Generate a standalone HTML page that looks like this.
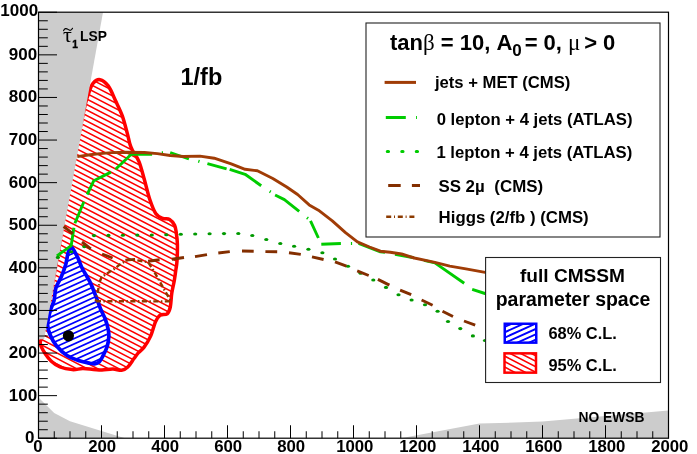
<!DOCTYPE html>
<html><head><meta charset="utf-8"><title>plot</title>
<style>
html,body{margin:0;padding:0;background:#fff;}
body{width:697px;height:454px;overflow:hidden;font-family:"Liberation Sans",sans-serif;}
svg{display:block;will-change:transform;transform:translateZ(0);}
text{font-family:"Liberation Sans",sans-serif;font-weight:bold;fill:#000;}
.sy{font-family:"Liberation Serif",serif;font-weight:normal;}
</style></head><body>
<svg width="697" height="454" viewBox="0 0 697 454">
<defs>
</defs>
<rect width="697" height="454" fill="#fff"/>

<clipPath id="cr"><path d="M99.9 79.7 C102.4 80.2 105.7 82.5 108.2 85.9 C110.8 89.3 112.9 95.0 115.2 100.0 C117.5 105.0 120.3 110.2 122.3 115.8 C124.3 121.4 126.1 128.9 127.3 133.4 C128.5 137.9 128.8 140.2 129.6 143.0 C130.4 145.8 130.7 146.9 132.3 150.0 C133.9 153.1 137.1 156.9 139.1 161.8 C141.1 166.8 142.6 173.4 144.4 179.7 C146.2 186.0 147.9 193.9 149.8 199.5 C151.7 205.1 153.5 210.2 155.7 213.4 C157.8 216.6 160.4 217.4 162.7 218.4 C165.0 219.4 167.6 218.2 169.6 219.4 C171.6 220.6 173.5 223.0 174.6 225.3 C175.7 227.6 175.8 229.8 176.3 233.0 C176.8 236.2 177.3 239.5 177.4 244.2 C177.5 248.9 177.3 256.6 177.0 261.2 C176.7 265.8 176.0 268.3 175.6 271.5 C175.2 274.7 174.9 276.9 174.3 280.5 C173.7 284.1 172.5 288.6 171.8 293.0 C171.1 297.4 171.1 303.5 170.3 307.0 C169.5 310.5 168.9 312.4 167.2 313.8 C165.5 315.2 161.9 313.9 160.0 315.2 C158.1 316.5 157.2 318.0 155.6 321.5 C154.0 325.0 152.4 332.1 150.5 336.4 C148.6 340.7 145.9 344.7 143.9 347.4 C141.9 350.1 140.2 350.8 138.5 352.6 C136.8 354.5 135.8 356.1 134.0 358.5 C132.2 360.9 129.9 365.0 127.8 367.0 C125.7 369.0 124.1 370.0 121.6 370.3 C119.1 370.6 116.3 369.1 113.0 369.0 C109.7 368.9 105.3 369.9 102.0 370.0 C98.7 370.1 96.6 369.6 93.4 369.4 C90.2 369.2 86.4 368.6 82.9 368.6 C79.4 368.6 76.1 369.9 72.3 369.6 C68.5 369.3 63.5 368.4 60.0 367.0 C56.5 365.6 53.7 363.4 51.3 361.2 C48.9 359.0 47.0 356.4 45.4 354.0 C43.8 351.6 42.3 348.9 41.4 347.0 C40.5 345.1 40.2 344.1 40.2 342.6 C40.2 341.1 40.7 341.8 41.5 338.0 C42.3 334.2 42.8 331.3 45.0 320.0 C47.2 308.7 50.8 293.3 55.0 270.0 C59.2 246.7 65.2 206.7 70.0 180.0 C74.8 153.3 80.9 124.5 84.0 110.0 C87.1 95.5 87.3 97.4 88.8 92.9 C90.3 88.4 91.3 85.4 93.2 83.2 C95.1 81.0 97.4 79.2 99.9 79.7Z"/></clipPath>
<path d="M99.9 79.7 C102.4 80.2 105.7 82.5 108.2 85.9 C110.8 89.3 112.9 95.0 115.2 100.0 C117.5 105.0 120.3 110.2 122.3 115.8 C124.3 121.4 126.1 128.9 127.3 133.4 C128.5 137.9 128.8 140.2 129.6 143.0 C130.4 145.8 130.7 146.9 132.3 150.0 C133.9 153.1 137.1 156.9 139.1 161.8 C141.1 166.8 142.6 173.4 144.4 179.7 C146.2 186.0 147.9 193.9 149.8 199.5 C151.7 205.1 153.5 210.2 155.7 213.4 C157.8 216.6 160.4 217.4 162.7 218.4 C165.0 219.4 167.6 218.2 169.6 219.4 C171.6 220.6 173.5 223.0 174.6 225.3 C175.7 227.6 175.8 229.8 176.3 233.0 C176.8 236.2 177.3 239.5 177.4 244.2 C177.5 248.9 177.3 256.6 177.0 261.2 C176.7 265.8 176.0 268.3 175.6 271.5 C175.2 274.7 174.9 276.9 174.3 280.5 C173.7 284.1 172.5 288.6 171.8 293.0 C171.1 297.4 171.1 303.5 170.3 307.0 C169.5 310.5 168.9 312.4 167.2 313.8 C165.5 315.2 161.9 313.9 160.0 315.2 C158.1 316.5 157.2 318.0 155.6 321.5 C154.0 325.0 152.4 332.1 150.5 336.4 C148.6 340.7 145.9 344.7 143.9 347.4 C141.9 350.1 140.2 350.8 138.5 352.6 C136.8 354.5 135.8 356.1 134.0 358.5 C132.2 360.9 129.9 365.0 127.8 367.0 C125.7 369.0 124.1 370.0 121.6 370.3 C119.1 370.6 116.3 369.1 113.0 369.0 C109.7 368.9 105.3 369.9 102.0 370.0 C98.7 370.1 96.6 369.6 93.4 369.4 C90.2 369.2 86.4 368.6 82.9 368.6 C79.4 368.6 76.1 369.9 72.3 369.6 C68.5 369.3 63.5 368.4 60.0 367.0 C56.5 365.6 53.7 363.4 51.3 361.2 C48.9 359.0 47.0 356.4 45.4 354.0 C43.8 351.6 42.3 348.9 41.4 347.0 C40.5 345.1 40.2 344.1 40.2 342.6 C40.2 341.1 40.7 341.8 41.5 338.0 C42.3 334.2 42.8 331.3 45.0 320.0 C47.2 308.7 50.8 293.3 55.0 270.0 C59.2 246.7 65.2 206.7 70.0 180.0 C74.8 153.3 80.9 124.5 84.0 110.0 C87.1 95.5 87.3 97.4 88.8 92.9 C90.3 88.4 91.3 85.4 93.2 83.2 C95.1 81.0 97.4 79.2 99.9 79.7Z" fill="#fff"/>
<path d="M36.00 -9.88L184.00 67.08M36.00 -4.38L184.00 72.58M36.00 1.12L184.00 78.08M36.00 6.62L184.00 83.58M36.00 12.12L184.00 89.08M36.00 17.62L184.00 94.58M36.00 23.12L184.00 100.08M36.00 28.62L184.00 105.58M36.00 34.12L184.00 111.08M36.00 39.62L184.00 116.58M36.00 45.12L184.00 122.08M36.00 50.62L184.00 127.58M36.00 56.12L184.00 133.08M36.00 61.62L184.00 138.58M36.00 67.12L184.00 144.08M36.00 72.62L184.00 149.58M36.00 78.12L184.00 155.08M36.00 83.62L184.00 160.58M36.00 89.12L184.00 166.08M36.00 94.62L184.00 171.58M36.00 100.12L184.00 177.08M36.00 105.62L184.00 182.58M36.00 111.12L184.00 188.08M36.00 116.62L184.00 193.58M36.00 122.12L184.00 199.08M36.00 127.62L184.00 204.58M36.00 133.12L184.00 210.08M36.00 138.62L184.00 215.58M36.00 144.12L184.00 221.08M36.00 149.62L184.00 226.58M36.00 155.12L184.00 232.08M36.00 160.62L184.00 237.58M36.00 166.12L184.00 243.08M36.00 171.62L184.00 248.58M36.00 177.12L184.00 254.08M36.00 182.62L184.00 259.58M36.00 188.12L184.00 265.08M36.00 193.62L184.00 270.58M36.00 199.12L184.00 276.08M36.00 204.62L184.00 281.58M36.00 210.12L184.00 287.08M36.00 215.62L184.00 292.58M36.00 221.12L184.00 298.08M36.00 226.62L184.00 303.58M36.00 232.12L184.00 309.08M36.00 237.62L184.00 314.58M36.00 243.12L184.00 320.08M36.00 248.62L184.00 325.58M36.00 254.12L184.00 331.08M36.00 259.62L184.00 336.58M36.00 265.12L184.00 342.08M36.00 270.62L184.00 347.58M36.00 276.12L184.00 353.08M36.00 281.62L184.00 358.58M36.00 287.12L184.00 364.08M36.00 292.62L184.00 369.58M36.00 298.12L184.00 375.08M36.00 303.62L184.00 380.58M36.00 309.12L184.00 386.08M36.00 314.62L184.00 391.58M36.00 320.12L184.00 397.08M36.00 325.62L184.00 402.58M36.00 331.12L184.00 408.08M36.00 336.62L184.00 413.58M36.00 342.12L184.00 419.08M36.00 347.62L184.00 424.58M36.00 353.12L184.00 430.08M36.00 358.62L184.00 435.58M36.00 364.12L184.00 441.08M36.00 369.62L184.00 446.58M36.00 375.12L184.00 452.08M36.00 380.62L184.00 457.58M36.00 386.12L184.00 463.08" clip-path="url(#cr)" stroke="#ff0000" stroke-width="1.5" fill="none"/>
<path d="M99.9 79.7 C102.4 80.2 105.7 82.5 108.2 85.9 C110.8 89.3 112.9 95.0 115.2 100.0 C117.5 105.0 120.3 110.2 122.3 115.8 C124.3 121.4 126.1 128.9 127.3 133.4 C128.5 137.9 128.8 140.2 129.6 143.0 C130.4 145.8 130.7 146.9 132.3 150.0 C133.9 153.1 137.1 156.9 139.1 161.8 C141.1 166.8 142.6 173.4 144.4 179.7 C146.2 186.0 147.9 193.9 149.8 199.5 C151.7 205.1 153.5 210.2 155.7 213.4 C157.8 216.6 160.4 217.4 162.7 218.4 C165.0 219.4 167.6 218.2 169.6 219.4 C171.6 220.6 173.5 223.0 174.6 225.3 C175.7 227.6 175.8 229.8 176.3 233.0 C176.8 236.2 177.3 239.5 177.4 244.2 C177.5 248.9 177.3 256.6 177.0 261.2 C176.7 265.8 176.0 268.3 175.6 271.5 C175.2 274.7 174.9 276.9 174.3 280.5 C173.7 284.1 172.5 288.6 171.8 293.0 C171.1 297.4 171.1 303.5 170.3 307.0 C169.5 310.5 168.9 312.4 167.2 313.8 C165.5 315.2 161.9 313.9 160.0 315.2 C158.1 316.5 157.2 318.0 155.6 321.5 C154.0 325.0 152.4 332.1 150.5 336.4 C148.6 340.7 145.9 344.7 143.9 347.4 C141.9 350.1 140.2 350.8 138.5 352.6 C136.8 354.5 135.8 356.1 134.0 358.5 C132.2 360.9 129.9 365.0 127.8 367.0 C125.7 369.0 124.1 370.0 121.6 370.3 C119.1 370.6 116.3 369.1 113.0 369.0 C109.7 368.9 105.3 369.9 102.0 370.0 C98.7 370.1 96.6 369.6 93.4 369.4 C90.2 369.2 86.4 368.6 82.9 368.6 C79.4 368.6 76.1 369.9 72.3 369.6 C68.5 369.3 63.5 368.4 60.0 367.0 C56.5 365.6 53.7 363.4 51.3 361.2 C48.9 359.0 47.0 356.4 45.4 354.0 C43.8 351.6 42.3 348.9 41.4 347.0 C40.5 345.1 40.2 344.1 40.2 342.6 C40.2 341.1 40.7 341.8 41.5 338.0 C42.3 334.2 42.8 331.3 45.0 320.0 C47.2 308.7 50.8 293.3 55.0 270.0 C59.2 246.7 65.2 206.7 70.0 180.0 C74.8 153.3 80.9 124.5 84.0 110.0 C87.1 95.5 87.3 97.4 88.8 92.9 C90.3 88.4 91.3 85.4 93.2 83.2 C95.1 81.0 97.4 79.2 99.9 79.7Z" fill="none" stroke="#ff0000" stroke-width="3.5" stroke-linejoin="round"/>
<clipPath id="cb"><path d="M71.7 247.3 C73.3 248.2 76.1 254.4 77.9 257.9 C79.7 261.4 80.2 264.4 82.3 268.5 C84.4 272.6 88.1 278.2 90.3 282.6 C92.5 287.0 93.6 290.5 95.3 294.9 C97.0 299.3 98.9 304.9 100.6 309.0 C102.3 313.1 104.0 315.7 105.3 319.2 C106.6 322.7 107.7 327.0 108.3 330.0 C108.9 333.0 109.0 334.2 108.8 337.0 C108.6 339.8 108.0 343.8 107.0 347.0 C106.0 350.2 104.1 353.7 102.8 356.2 C101.5 358.7 100.6 360.7 99.2 362.0 C97.8 363.3 96.1 363.6 94.6 363.8 C93.0 364.0 92.5 363.7 89.9 363.2 C87.4 362.7 83.1 362.1 79.3 360.8 C75.5 359.5 70.8 358.0 67.0 355.5 C63.2 353.0 59.2 349.2 56.4 345.8 C53.6 342.4 51.8 338.7 50.3 335.2 C48.8 331.7 47.6 328.8 47.6 324.7 C47.6 320.6 49.2 314.7 50.3 310.6 C51.4 306.5 53.2 304.0 54.1 300.2 C55.0 296.4 54.7 291.7 55.9 287.9 C57.1 284.1 59.5 281.1 61.1 277.3 C62.7 273.5 64.4 269.1 65.6 265.0 C66.8 260.9 67.2 255.5 68.2 252.6 C69.2 249.7 70.1 246.4 71.7 247.3Z"/></clipPath>
<path d="M71.7 247.3 C73.3 248.2 76.1 254.4 77.9 257.9 C79.7 261.4 80.2 264.4 82.3 268.5 C84.4 272.6 88.1 278.2 90.3 282.6 C92.5 287.0 93.6 290.5 95.3 294.9 C97.0 299.3 98.9 304.9 100.6 309.0 C102.3 313.1 104.0 315.7 105.3 319.2 C106.6 322.7 107.7 327.0 108.3 330.0 C108.9 333.0 109.0 334.2 108.8 337.0 C108.6 339.8 108.0 343.8 107.0 347.0 C106.0 350.2 104.1 353.7 102.8 356.2 C101.5 358.7 100.6 360.7 99.2 362.0 C97.8 363.3 96.1 363.6 94.6 363.8 C93.0 364.0 92.5 363.7 89.9 363.2 C87.4 362.7 83.1 362.1 79.3 360.8 C75.5 359.5 70.8 358.0 67.0 355.5 C63.2 353.0 59.2 349.2 56.4 345.8 C53.6 342.4 51.8 338.7 50.3 335.2 C48.8 331.7 47.6 328.8 47.6 324.7 C47.6 320.6 49.2 314.7 50.3 310.6 C51.4 306.5 53.2 304.0 54.1 300.2 C55.0 296.4 54.7 291.7 55.9 287.9 C57.1 284.1 59.5 281.1 61.1 277.3 C62.7 273.5 64.4 269.1 65.6 265.0 C66.8 260.9 67.2 255.5 68.2 252.6 C69.2 249.7 70.1 246.4 71.7 247.3Z" fill="#fff"/>
<path d="M44.00 234.34L114.00 202.59M44.00 239.70L114.00 207.95M44.00 245.06L114.00 213.31M44.00 250.42L114.00 218.67M44.00 255.78L114.00 224.03M44.00 261.14L114.00 229.39M44.00 266.50L114.00 234.75M44.00 271.86L114.00 240.11M44.00 277.22L114.00 245.47M44.00 282.58L114.00 250.83M44.00 287.94L114.00 256.19M44.00 293.30L114.00 261.55M44.00 298.66L114.00 266.91M44.00 304.02L114.00 272.27M44.00 309.38L114.00 277.63M44.00 314.74L114.00 282.99M44.00 320.10L114.00 288.35M44.00 325.46L114.00 293.71M44.00 330.82L114.00 299.07M44.00 336.18L114.00 304.43M44.00 341.54L114.00 309.79M44.00 346.90L114.00 315.15M44.00 352.26L114.00 320.51M44.00 357.62L114.00 325.87M44.00 362.98L114.00 331.23M44.00 368.34L114.00 336.59M44.00 373.70L114.00 341.95M44.00 379.06L114.00 347.31M44.00 384.42L114.00 352.67M44.00 389.78L114.00 358.03M44.00 395.14L114.00 363.39M44.00 400.50L114.00 368.75M44.00 405.86L114.00 374.11" clip-path="url(#cb)" stroke="#0000ff" stroke-width="1.7" fill="none"/>
<path d="M71.7 247.3 C73.3 248.2 76.1 254.4 77.9 257.9 C79.7 261.4 80.2 264.4 82.3 268.5 C84.4 272.6 88.1 278.2 90.3 282.6 C92.5 287.0 93.6 290.5 95.3 294.9 C97.0 299.3 98.9 304.9 100.6 309.0 C102.3 313.1 104.0 315.7 105.3 319.2 C106.6 322.7 107.7 327.0 108.3 330.0 C108.9 333.0 109.0 334.2 108.8 337.0 C108.6 339.8 108.0 343.8 107.0 347.0 C106.0 350.2 104.1 353.7 102.8 356.2 C101.5 358.7 100.6 360.7 99.2 362.0 C97.8 363.3 96.1 363.6 94.6 363.8 C93.0 364.0 92.5 363.7 89.9 363.2 C87.4 362.7 83.1 362.1 79.3 360.8 C75.5 359.5 70.8 358.0 67.0 355.5 C63.2 353.0 59.2 349.2 56.4 345.8 C53.6 342.4 51.8 338.7 50.3 335.2 C48.8 331.7 47.6 328.8 47.6 324.7 C47.6 320.6 49.2 314.7 50.3 310.6 C51.4 306.5 53.2 304.0 54.1 300.2 C55.0 296.4 54.7 291.7 55.9 287.9 C57.1 284.1 59.5 281.1 61.1 277.3 C62.7 273.5 64.4 269.1 65.6 265.0 C66.8 260.9 67.2 255.5 68.2 252.6 C69.2 249.7 70.1 246.4 71.7 247.3Z" fill="none" stroke="#0000ff" stroke-width="3.7" stroke-linejoin="round"/>
<path d="M38.5 12.2 L103.0 12.2 L44.1 339.2 L38.5 339.2Z" fill="#cccccc"/>
<path d="M38.5 397.5 L54.2 413.0 L70.0 421.3 L101.5 431.0 L125.0 438.2 L38.5 438.2Z" fill="#cccccc"/>
<path d="M401.0 438.2 L479.5 423.6 L542.5 421.6 L605.5 416.0 L668.5 410.5 L668.5 438.2Z" fill="#cccccc"/>
<path d="M56.9 255.9 L71.2 245.6 L73.9 227.8M74.9 223.2 L83.9 201.8M87.2 194.5 L93.8 180.7 L110.9 172.1M115.6 169.2 L130.2 155.2 L132.0 154.3 L152.1 154.2M170.2 152.5 L188.9 159.0M207.4 163.6 L226.6 168.8M229.7 169.3 L245.1 174.3 L261.2 185.7M275.1 195.0 L284.4 199.6 L299.2 211.4M310.5 220.8 L318.4 238.0M321.3 244.2 L340.9 243.5M358.6 243.4 L369.5 247.7 L380.4 251.8 L385.0 252.3M395.0 254.3 L414.0 257.8M424.0 260.3 L434.9 262.9 L464.2 283.3M472.2 289.4 L486.5 294.0M161.8 152.6L163.0 152.6M198.3 161.1L199.5 161.5M269.7 191.3L270.7 191.9M307.0 217.7L308.0 218.5M350.9 243.5L352.1 243.5" fill="none" stroke="#00cc00" stroke-width="2.9" stroke-linejoin="round"/>
<path d="M77.3 156.6 L90.0 154.7 L100.0 153.6 L112.0 152.6 L125.0 152.2 L144.4 152.5 L157.3 153.6 L170.2 155.5 L183.1 156.5 L199.9 156.1 L214.2 158.2 L231.2 163.9 L245.1 169.3 L257.4 170.8 L272.8 178.5 L286.7 187.0 L297.6 194.5 L309.2 204.9 L318.4 210.2 L332.3 220.8 L345.5 232.7 L357.4 241.9 L369.5 247.0 L380.4 251.2 L390.2 252.2 L401.6 254.0 L414.3 258.0 L434.9 262.4 L449.8 266.1 L465.9 268.9 L486.5 272.6" fill="none" stroke="#a03c06" stroke-width="2.9" stroke-linejoin="round"/>
<ellipse cx="57.9" cy="257.4" rx="2.1" ry="1.55" fill="#009900"/>
<ellipse cx="71.2" cy="251.8" rx="2.1" ry="1.55" fill="#009900"/>
<ellipse cx="84.3" cy="246.6" rx="2.1" ry="1.55" fill="#009900"/>
<ellipse cx="94.0" cy="235.6" rx="2.1" ry="1.55" fill="#009900"/>
<ellipse cx="108.4" cy="235.4" rx="2.1" ry="1.55" fill="#009900"/>
<ellipse cx="122.9" cy="235.2" rx="2.1" ry="1.55" fill="#009900"/>
<ellipse cx="137.3" cy="235.1" rx="2.1" ry="1.55" fill="#009900"/>
<ellipse cx="151.8" cy="235.0" rx="2.1" ry="1.55" fill="#009900"/>
<ellipse cx="166.3" cy="234.8" rx="2.1" ry="1.55" fill="#009900"/>
<ellipse cx="180.8" cy="234.2" rx="2.1" ry="1.55" fill="#009900"/>
<ellipse cx="195.2" cy="234.0" rx="2.1" ry="1.55" fill="#009900"/>
<ellipse cx="209.6" cy="233.8" rx="2.1" ry="1.55" fill="#009900"/>
<ellipse cx="224.0" cy="233.6" rx="2.1" ry="1.55" fill="#009900"/>
<ellipse cx="238.3" cy="233.5" rx="2.1" ry="1.55" fill="#009900"/>
<ellipse cx="252.3" cy="235.5" rx="2.1" ry="1.55" fill="#009900"/>
<ellipse cx="266.3" cy="239.5" rx="2.1" ry="1.55" fill="#009900"/>
<ellipse cx="280.3" cy="243.5" rx="2.1" ry="1.55" fill="#009900"/>
<ellipse cx="294.1" cy="246.3" rx="2.1" ry="1.55" fill="#009900"/>
<ellipse cx="308.4" cy="249.2" rx="2.1" ry="1.55" fill="#009900"/>
<ellipse cx="322.4" cy="252.7" rx="2.1" ry="1.55" fill="#009900"/>
<ellipse cx="335.0" cy="259.0" rx="2.1" ry="1.55" fill="#009900"/>
<ellipse cx="348.0" cy="266.3" rx="2.1" ry="1.55" fill="#009900"/>
<ellipse cx="360.6" cy="273.2" rx="2.1" ry="1.55" fill="#009900"/>
<ellipse cx="373.3" cy="280.0" rx="2.1" ry="1.55" fill="#009900"/>
<ellipse cx="386.0" cy="287.4" rx="2.1" ry="1.55" fill="#009900"/>
<ellipse cx="398.5" cy="294.7" rx="2.1" ry="1.55" fill="#009900"/>
<ellipse cx="411.6" cy="300.0" rx="2.1" ry="1.55" fill="#009900"/>
<ellipse cx="425.0" cy="304.8" rx="2.1" ry="1.55" fill="#009900"/>
<ellipse cx="437.6" cy="311.2" rx="2.1" ry="1.55" fill="#009900"/>
<ellipse cx="448.0" cy="321.5" rx="2.1" ry="1.55" fill="#009900"/>
<ellipse cx="460.3" cy="328.6" rx="2.1" ry="1.55" fill="#009900"/>
<ellipse cx="472.9" cy="335.9" rx="2.1" ry="1.55" fill="#009900"/>
<ellipse cx="485.0" cy="340.5" rx="2.1" ry="1.55" fill="#009900"/>
<path d="M63.6 226.5L72.8 233.6M82.0 242.0L90.8 248.9M102.1 254.0L112.6 258.0M125.4 260.1L135.1 259.4M148.1 261.2L159.6 259.8M171.8 259.3L184.0 257.5M195.0 256.6L207.0 254.6M218.3 253.0L229.8 251.6M242.0 251.0L253.7 251.3M265.4 251.6L277.2 251.8M289.0 252.7L300.8 254.4M312.0 256.8L323.6 259.5M335.0 261.8L346.5 266.2M357.2 270.9L368.7 275.5M377.9 279.4L389.4 285.1M400.1 290.1L411.2 294.7M421.6 300.0L432.6 305.2M442.5 311.2L453.0 316.5M464.0 321.0L475.2 325.1" fill="none" stroke="#832e00" stroke-width="2.9"/>
<path d="M95.8 301.2 L171.1 301.4 L165.3 291.6 L158.2 278.7 L152.4 268.7 L148.1 262.2 L135.2 260.0 L128.0 259.8 L120.9 263.6 L113.7 269.4 L106.5 273.7 L101.5 277.3 L99.3 283.0 L97.9 291.6 L96.5 297.3 L95.8 301.2" fill="none" stroke="#8c3a00" stroke-width="2.4" stroke-dasharray="5.2 2.4 1.5 2.4" stroke-linejoin="round"/>
<circle cx="68.4" cy="335.8" r="5.6" fill="#000"/>
<rect x="38.5" y="12.2" width="630.0" height="426.0" fill="none" stroke="#000" stroke-width="1.2"/>
<path d="M38.50 438.25h18.5M38.50 429.73h9.3M38.50 421.21h9.3M38.50 412.69h9.3M38.50 404.17h9.3M38.50 395.65h18.5M38.50 387.13h9.3M38.50 378.61h9.3M38.50 370.09h9.3M38.50 361.57h9.3M38.50 353.05h18.5M38.50 344.53h9.3M38.50 336.01h9.3M38.50 327.49h9.3M38.50 318.97h9.3M38.50 310.45h18.5M38.50 301.93h9.3M38.50 293.41h9.3M38.50 284.89h9.3M38.50 276.37h9.3M38.50 267.85h18.5M38.50 259.33h9.3M38.50 250.81h9.3M38.50 242.29h9.3M38.50 233.77h9.3M38.50 225.25h18.5M38.50 216.73h9.3M38.50 208.21h9.3M38.50 199.69h9.3M38.50 191.17h9.3M38.50 182.65h18.5M38.50 174.13h9.3M38.50 165.61h9.3M38.50 157.09h9.3M38.50 148.57h9.3M38.50 140.05h18.5M38.50 131.53h9.3M38.50 123.01h9.3M38.50 114.49h9.3M38.50 105.97h9.3M38.50 97.45h18.5M38.50 88.93h9.3M38.50 80.41h9.3M38.50 71.89h9.3M38.50 63.37h9.3M38.50 54.85h18.5M38.50 46.33h9.3M38.50 37.81h9.3M38.50 29.29h9.3M38.50 20.77h9.3M38.50 12.25h18.5M38.50 438.25v-13.0M54.25 438.25v-7.0M70.00 438.25v-7.0M85.75 438.25v-7.0M101.50 438.25v-13.0M117.25 438.25v-7.0M133.00 438.25v-7.0M148.75 438.25v-7.0M164.50 438.25v-13.0M180.25 438.25v-7.0M196.00 438.25v-7.0M211.75 438.25v-7.0M227.50 438.25v-13.0M243.25 438.25v-7.0M259.00 438.25v-7.0M274.75 438.25v-7.0M290.50 438.25v-13.0M306.25 438.25v-7.0M322.00 438.25v-7.0M337.75 438.25v-7.0M353.50 438.25v-13.0M369.25 438.25v-7.0M385.00 438.25v-7.0M400.75 438.25v-7.0M416.50 438.25v-13.0M432.25 438.25v-7.0M448.00 438.25v-7.0M463.75 438.25v-7.0M479.50 438.25v-13.0M495.25 438.25v-7.0M511.00 438.25v-7.0M526.75 438.25v-7.0M542.50 438.25v-13.0M558.25 438.25v-7.0M574.00 438.25v-7.0M589.75 438.25v-7.0M605.50 438.25v-13.0M621.25 438.25v-7.0M637.00 438.25v-7.0M652.75 438.25v-7.0M668.50 438.25v-13.0" stroke="#000" stroke-width="1" fill="none"/>
<text x="34.4" y="443.1" font-size="17" text-anchor="end">0</text>
<text x="37.1" y="400.6" font-size="17" text-anchor="end">100</text>
<text x="37.1" y="358.1" font-size="17" text-anchor="end">200</text>
<text x="37.1" y="315.4" font-size="17" text-anchor="end">300</text>
<text x="37.1" y="272.9" font-size="17" text-anchor="end">400</text>
<text x="37.1" y="230.2" font-size="17" text-anchor="end">500</text>
<text x="37.1" y="187.7" font-size="17" text-anchor="end">600</text>
<text x="37.1" y="145.1" font-size="17" text-anchor="end">700</text>
<text x="37.1" y="102.4" font-size="17" text-anchor="end">800</text>
<text x="37.1" y="59.9" font-size="17" text-anchor="end">900</text>
<text x="38.2" y="16.4" font-size="17" text-anchor="end">1000</text>
<text x="37.8" y="452.2" font-size="16.8" text-anchor="middle">0</text>
<text x="102.2" y="452.2" font-size="16.8" text-anchor="middle">200</text>
<text x="165.2" y="452.2" font-size="16.8" text-anchor="middle">400</text>
<text x="228.2" y="452.2" font-size="16.8" text-anchor="middle">600</text>
<text x="291.2" y="452.2" font-size="16.8" text-anchor="middle">800</text>
<text x="354.8" y="452.2" font-size="16.8" text-anchor="middle">1000</text>
<text x="417.8" y="452.2" font-size="16.8" text-anchor="middle">1200</text>
<text x="480.8" y="452.2" font-size="16.8" text-anchor="middle">1400</text>
<text x="543.8" y="452.2" font-size="16.8" text-anchor="middle">1600</text>
<text x="606.8" y="452.2" font-size="16.8" text-anchor="middle">1800</text>
<text x="669.8" y="452.2" font-size="16.8" text-anchor="middle">2000</text>
<text x="180.5" y="84.7" font-size="23.5">1/fb</text>
<text x="0" y="0" font-size="20" class="sy" transform="translate(63 41.5) scale(1.1 1)">τ</text>
<path d="M63.6 30.6C64.5 28.2 66.3 28.1 68 29.4S71.4 30.8 72.5 28.3" fill="none" stroke="#000" stroke-width="1.15" stroke-linecap="round"/>
<text x="72.3" y="47.7" font-size="10.2" stroke="#000" stroke-width="0.4">1</text>
<text x="80" y="40.8" font-size="13.8">LSP</text>
<text x="578.5" y="422.4" font-size="13.8">NO EWSB</text>
<rect x="366" y="23" width="294" height="214" fill="#fff" stroke="#222" stroke-width="1.1"/>
<text x="390" y="49.7" font-size="22">tan<tspan class="sy" font-size="23">β</tspan> = 10, A<tspan font-size="17" dy="6">0</tspan><tspan dy="-6" dx="-3.3"> = 0, </tspan><tspan class="sy" font-size="23">μ</tspan><tspan dx="-2.4"> &gt; 0</tspan></text>
<path d="M384.6 82.4H416" stroke="#a03c06" stroke-width="3"/>
<text x="434.9" y="88.3" font-size="16.65">jets + MET (CMS)</text>
<path d="M385.8 117.5H416.9" stroke="#00cc00" stroke-width="3" stroke-dasharray="20 10.2 1.2 10"/>
<text x="436.7" y="124.7" font-size="16.7">0 lepton + 4 jets (ATLAS)</text>
<path d="M387.3 151.5H420" stroke="#00cc00" stroke-width="3.1" stroke-linecap="round" stroke-dasharray="1.2 13.3"/>
<text x="436.4" y="158.2" font-size="16.7">1 lepton + 4 jets (ATLAS)</text>
<path d="M388.2 185.5H420" stroke="#832e00" stroke-width="3" stroke-dasharray="12.5 11.2"/>
<text x="438.4" y="192.4" font-size="16.9">SS 2µ<tspan dx="9.6">(CMS)</tspan></text>
<path d="M386.2 216.7H415.2" stroke="#8c3a00" stroke-width="2.6" stroke-dasharray="5 2.8 1 2.8"/>
<text x="438.6" y="223.2" font-size="16.8">Higgs (2/fb ) (CMS)</text>
<rect x="485.6" y="257.5" width="174.9" height="125" fill="#fff" stroke="#222" stroke-width="1.1"/>
<text x="572.5" y="282.4" font-size="19.1" text-anchor="middle">full CMSSM</text>
<text x="573" y="306.4" font-size="19.45" text-anchor="middle">parameter space</text>
<clipPath id="lb"><rect x="504.7" y="323.7" width="31.6" height="19"/></clipPath>
<path d="M500.00 312.97L540.00 294.83M500.00 318.33L540.00 300.19M500.00 323.69L540.00 305.55M500.00 329.05L540.00 310.91M500.00 334.41L540.00 316.27M500.00 339.77L540.00 321.63M500.00 345.13L540.00 326.99M500.00 350.49L540.00 332.35M500.00 355.85L540.00 337.71M500.00 361.21L540.00 343.07M500.00 366.57L540.00 348.43M500.00 371.93L540.00 353.79" clip-path="url(#lb)" stroke="#0000ff" stroke-width="1.9" fill="none"/>
<rect x="504.75" y="323.75" width="31.5" height="18.9" fill="none" stroke="#0000ff" stroke-width="2.5"/>
<text x="548.5" y="338.8" font-size="16.4">68% C.L.</text>
<clipPath id="lr"><rect x="504.5" y="353.3" width="31.5" height="19.4"/></clipPath>
<path d="M500.00 320.80L540.00 341.60M500.00 326.28L540.00 347.08M500.00 331.76L540.00 352.56M500.00 337.24L540.00 358.04M500.00 342.72L540.00 363.52M500.00 348.20L540.00 369.00M500.00 353.68L540.00 374.48M500.00 359.16L540.00 379.96M500.00 364.64L540.00 385.44M500.00 370.12L540.00 390.92M500.00 375.60L540.00 396.40M500.00 381.08L540.00 401.88M500.00 386.56L540.00 407.36" clip-path="url(#lr)" stroke="#ff0000" stroke-width="1.6" fill="none"/>
<rect x="504.5" y="353.35" width="31.5" height="19.3" fill="none" stroke="#ff0000" stroke-width="2.5"/>
<text x="548.5" y="370.8" font-size="16.4">95% C.L.</text>
</svg></body></html>
